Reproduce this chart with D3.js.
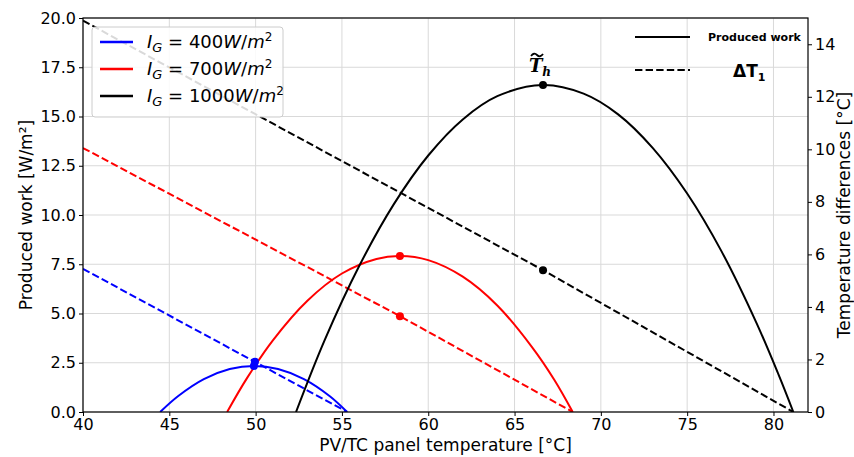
<!DOCTYPE html>
<html>
<head>
<meta charset="utf-8">
<script src="https://cdn.jsdelivr.net/npm/d3@7"></script>
<style>
  body { margin: 0; background: #fff; }
  svg { display: block; font-family: "DejaVu Sans", sans-serif; }
</style>
</head>
<body>
<svg id="chart" width="854" height="457"></svg>
<script>
// ---------- data ----------
const xTicks = [40, 45, 50, 55, 60, 65, 70, 75, 80];
const leftTicks = [0, 2.5, 5, 7.5, 10, 12.5, 15, 17.5, 20];
const rightTicks = [0, 2, 4, 6, 8, 10, 12, 14];

// Produced work [W/m²] vs panel temperature, per irradiance
const work400 = [[44.47,0],[45.5,0.80],[47,1.67],[48.5,2.18],[49.9,2.34],[51.3,2.18],[52.8,1.67],[54.3,0.80],[55.3,0]];
const work700 = [[48.35,0],[49.5,1.72],[51,3.64],[53,5.65],[55,7.03],[57,7.77],[58.36,7.92],[60,7.71],[62,6.87],[64,5.41],[66,3.31],[67.3,1.64],[68.37,0]];
const work1000 = [[52.34,0],[54,3.65],[56,7.41],[58,10.54],[60,13.02],[62,14.85],[64,16.03],[66.65,16.6],[69,16.16],[71,15.11],[73,13.41],[75,11.09],[77,8.14],[79,4.55],[80.3,1.88],[81.15,0]];

// ΔT1 [°C] (right axis)
const dT400 = [[40,5.45],[49.96,1.91],[55.3,0]];
const dT700 = [[40,10.05],[58.36,3.65],[68.37,0]];
const dT1000 = [[40,14.9],[66.65,5.4],[81.15,0]];

// optimum markers
const peakWork = [[49.9,2.34],[58.36,7.92],[66.65,16.6]];
const peakDT = [[49.96,1.91],[58.36,3.65],[66.65,5.4]];

const seriesNames = ["400", "700", "1000"];
const colors = ["#0000ff", "#ff0000", "#000000"];

// ---------- layout ----------
const svg = d3.select("#chart");
const L = 83, R = 808, T = 18, B = 412;

const x = d3.scaleLinear().domain([40, 82]).range([L, R]);
const yL = d3.scaleLinear().domain([0, 20]).range([B, T]);
const yR = d3.scaleLinear().domain([0, 15]).range([B, T]);

// grid
const grid = svg.append("g");
grid.selectAll(".gx").data(xTicks).join("line")
  .attr("x1", d => x(d)).attr("x2", d => x(d)).attr("y1", T).attr("y2", B)
  .attr("stroke", "#d9d9d9").attr("stroke-width", 1);
grid.selectAll(".gy").data(leftTicks).join("line")
  .attr("x1", L).attr("x2", R).attr("y1", d => yL(d)).attr("y2", d => yL(d))
  .attr("stroke", "#d9d9d9").attr("stroke-width", 1);

// clip
svg.append("clipPath").attr("id", "clip").append("rect")
  .attr("x", L).attr("y", T).attr("width", R - L).attr("height", B - T);

const plot = svg.append("g").attr("clip-path", "url(#clip)");
const lineL = d3.line().x(d => x(d[0])).y(d => yL(d[1])).curve(d3.curveCatmullRom.alpha(0.5));
const lineR = d3.line().x(d => x(d[0])).y(d => yR(d[1]));

const works = [work400, work700, work1000];
const dts = [dT400, dT700, dT1000];

dts.forEach((s, i) => {
  plot.append("path").datum(s).attr("d", lineR)
    .attr("fill", "none").attr("stroke", colors[i]).attr("stroke-width", 2)
    .attr("stroke-dasharray", "7.4,3.2");
});
works.forEach((s, i) => {
  plot.append("path").datum(s).attr("d", lineL)
    .attr("fill", "none").attr("stroke", colors[i]).attr("stroke-width", 2);
});
svg.selectAll(".pw").data(peakWork).join("circle")
  .attr("cx", d => x(d[0])).attr("cy", d => yL(d[1])).attr("r", 4)
  .attr("fill", (d, i) => colors[i]);
svg.selectAll(".pd").data(peakDT).join("circle")
  .attr("cx", d => x(d[0])).attr("cy", d => yR(d[1])).attr("r", 4)
  .attr("fill", (d, i) => colors[i]);

// axes
const fs = 16;
const axB = svg.append("g").attr("transform", `translate(0,${B})`)
  .call(d3.axisBottom(x).tickValues(xTicks).tickSize(4).tickPadding(2).tickFormat(d3.format("d")));
const axL = svg.append("g").attr("transform", `translate(${L},0)`)
  .call(d3.axisLeft(yL).tickValues(leftTicks).tickSize(4).tickPadding(3).tickFormat(d3.format(".1f")));
const axR = svg.append("g").attr("transform", `translate(${R},0)`)
  .call(d3.axisRight(yR).tickValues(rightTicks).tickSize(4).tickPadding(3).tickFormat(d3.format("d")));
[axB, axL, axR].forEach(a => {
  a.select(".domain").remove();
  a.selectAll("text").attr("font-size", fs).attr("font-family", "DejaVu Sans").attr("fill", "#000");
  a.selectAll("line").attr("stroke", "#000");
});
axB.selectAll("text").attr("dy", "0.72em");
// frame
svg.append("rect").attr("x", L).attr("y", T).attr("width", R - L).attr("height", B - T)
  .attr("fill", "none").attr("stroke", "#000").attr("stroke-width", 1.2);

// axis titles
svg.append("text").attr("x", x(61)).attr("y", 451).attr("text-anchor", "middle")
  .attr("font-size", 17).text("PV/TC panel temperature [°C]");
svg.append("text").attr("transform", `translate(32,${(T + B) / 2}) rotate(-90)`)
  .attr("text-anchor", "middle").attr("font-size", 17).text("Produced work [W/m²]");
svg.append("text").attr("transform", `translate(850,${(T + B) / 2}) rotate(-90)`)
  .attr("text-anchor", "middle").attr("font-size", 17).text("Temperature differences [°C]");

// left legend
const lg = svg.append("g");
lg.append("rect").attr("x", 92).attr("y", 27).attr("width", 191).attr("height", 90).attr("rx", 3)
  .attr("fill", "#fff").attr("fill-opacity", 0.85).attr("stroke", "#cccccc");
seriesNames.forEach((n, i) => {
  const yy = 42 + i * 27;
  lg.append("line").attr("x1", 100).attr("x2", 133).attr("y1", yy).attr("y2", yy)
    .attr("stroke", colors[i]).attr("stroke-width", 2.5);
  const t = lg.append("text").attr("x", 147).attr("y", yy + 6).attr("font-size", 18);
  t.append("tspan").attr("font-style", "italic").text("I");
  t.append("tspan").attr("font-style", "italic").attr("font-size", 13).attr("dy", 4).text("G");
  t.append("tspan").attr("dy", -4).text(" = " + n);
  t.append("tspan").attr("font-style", "italic").text("W");
  t.append("tspan").text("/");
  t.append("tspan").attr("font-style", "italic").text("m");
  t.append("tspan").attr("font-size", 12).attr("dy", -7).text("2");
});

// right legend
const rg = svg.append("g");
rg.append("line").attr("x1", 635).attr("x2", 690).attr("y1", 37).attr("y2", 37)
  .attr("stroke", "#000").attr("stroke-width", 2);
rg.append("text").attr("x", 708).attr("y", 41).attr("font-size", 11).attr("font-weight", "bold")
  .text("Produced work");
rg.append("line").attr("x1", 635).attr("x2", 690).attr("y1", 70).attr("y2", 70)
  .attr("stroke", "#000").attr("stroke-width", 2).attr("stroke-dasharray", "7.4,3.2");
const dtT = rg.append("text").attr("x", 733).attr("y", 77).attr("font-size", 17).attr("font-weight", "bold");
dtT.append("tspan").text("ΔT");
dtT.append("tspan").attr("font-size", 11).attr("dy", 4).text("1");

// T~h label
const cx = x(66.65);
const th = svg.append("text").attr("x", cx - 3).attr("y", 72).attr("text-anchor", "middle")
  .attr("font-family", "DejaVu Serif").attr("font-weight", "bold").attr("font-style", "italic")
  .attr("font-size", 18);
th.append("tspan").text("T");
th.append("tspan").attr("font-size", 12).attr("dy", 4).text("h");
// tilde accent over the T
svg.append("path")
  .attr("d", `M${cx - 12},${56} q3,-4 6,-1 t6,-1`)
  .attr("fill", "none").attr("stroke", "#000").attr("stroke-width", 1.8);
</script>
</body>
</html>
